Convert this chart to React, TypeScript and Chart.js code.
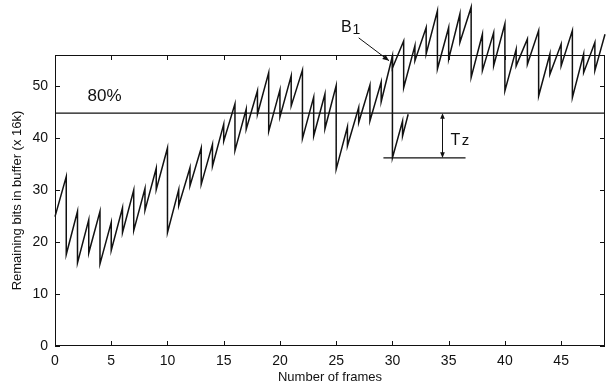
import React, { useEffect, useRef } from "react";
import { Chart, registerables } from "chart.js";

Chart.register(...registerables);

// Frame numbers where the buffer drops (frame boundaries)
const frames = [
  1, 2, 3, 4, 5, 6, 7, 8, 9, 10,
  11, 12, 13, 14, 15, 16, 17, 18, 19, 20,
  21, 22, 23, 24, 25, 26, 27, 28, 29, 30,
  31, 32, 33, 34, 35, 36, 37, 38, 39, 40,
  41, 42, 43, 44, 45, 46, 47, 48,
];
// Buffer level just before each frame boundary (x 16k bits)
const peaks = [
  32.6, 25.9, 24.3, 25.9, 23.8, 26.6, 30.0, 30.3, 34.2, 38.1,
  30.1, 34.3, 38.1, 38.8, 42.7, 46.6, 45.6, 49.1, 52.6, 49.3,
  52.0, 53.1, 47.9, 48.5, 50.1, 42.2, 45.9, 50.2, 50.8, 55.8,
  58.7, 57.8, 61.3, 64.5, 61.3, 63.9, 65.2, 60.0, 60.3, 62.0,
  57.1, 59.1, 60.7, 56.2, 58.1, 60.7, 56.2, 58.4,
];
// Buffer level just after each frame boundary
const troughs = [
  17.6, 16.0, 17.9, 15.8, 18.4, 21.8, 22.2, 26.1, 30.1, 21.8,
  27.0, 30.8, 31.1, 34.6, 39.4, 37.6, 41.7, 44.6, 41.3, 44.1,
  46.2, 39.9, 40.4, 41.8, 34.0, 38.5, 43.0, 43.3, 47.0, 53.5,
  49.7, 54.9, 56.2, 53.3, 55.2, 58.4, 51.7, 53.0, 53.9, 49.1,
  53.9, 54.2, 48.1, 52.3, 53.9, 47.8, 52.6, 53.0,
];
const startX = 0;
const startY = 24.9;
const endX = 48.9;
const endY = 60.0;

// Branch illustrating frame skipping at B1 (drop to Tz level)
const branchX = [30, 30, 30.9, 30.9, 31.4];
const branchY = [55.8, 36.2, 43.3, 40.4, 44.6];

// Reference levels
const B1 = 56;
const level80 = 44.8;
const levelTz = 36.2;
const tzLineX = [29.2, 36.5];
const tzArrowX = 34.4;

const xTicks = [0, 5, 10, 15, 20, 25, 30, 35, 40, 45];
const yTicks = [0, 10, 20, 30, 40, 50];
const xMax = 48.9;

const FONT = "'Liberation Sans', Arial, Helvetica, sans-serif";
const INK = "#111";

function drawArrowHead(ctx: CanvasRenderingContext2D, x1: number, y1: number, x2: number, y2: number, size: number) {
  const a = Math.atan2(y2 - y1, x2 - x1);
  ctx.beginPath();
  ctx.moveTo(x2, y2);
  ctx.lineTo(x2 - size * Math.cos(a - 0.4), y2 - size * Math.sin(a - 0.4));
  ctx.lineTo(x2 - size * Math.cos(a + 0.4), y2 - size * Math.sin(a + 0.4));
  ctx.closePath();
  ctx.fill();
}

const decorPlugin = {
  id: "decor",
  afterDraw(chart: any) {
    const { ctx, chartArea, scales } = chart;
    const xs = scales.x;
    const ys = scales.y;
    const { left, right, top, bottom } = chartArea;
    ctx.save();
    ctx.strokeStyle = INK;
    ctx.fillStyle = INK;
    ctx.lineWidth = 1;
    // axes box
    ctx.strokeRect(Math.round(left) + 0.5, Math.round(top) + 0.5, Math.round(right - left) - 1, Math.round(bottom - top) - 1);
    // inward ticks
    const tl = 5;
    ctx.beginPath();
    xTicks.forEach((v) => {
      const px = Math.round(xs.getPixelForValue(v)) + 0.5;
      ctx.moveTo(px, bottom);
      ctx.lineTo(px, bottom - tl);
      ctx.moveTo(px, top);
      ctx.lineTo(px, top + tl);
    });
    yTicks.forEach((v) => {
      const py = Math.round(ys.getPixelForValue(v)) + 0.5;
      ctx.moveTo(left, py);
      ctx.lineTo(left + tl, py);
      ctx.moveTo(right, py);
      ctx.lineTo(right - tl, py);
    });
    ctx.stroke();

    // Tz double arrow
    const ax = Math.round(xs.getPixelForValue(tzArrowX)) + 0.5;
    const ay1 = ys.getPixelForValue(level80);
    const ay2 = ys.getPixelForValue(levelTz);
    ctx.beginPath();
    ctx.moveTo(ax, ay1 + 2);
    ctx.lineTo(ax, ay2 - 2);
    ctx.stroke();
    drawArrowHead(ctx, ax, ay1 + 10, ax, ay1, 6);
    drawArrowHead(ctx, ax, ay2 - 10, ax, ay2, 6);

    // B1 arrow
    const bx1 = xs.getPixelForValue(27.0);
    const by1 = ys.getPixelForValue(59.3);
    const bx2 = xs.getPixelForValue(29.7);
    const by2 = ys.getPixelForValue(54.9);
    ctx.beginPath();
    ctx.moveTo(bx1, by1);
    ctx.lineTo(bx2, by2);
    ctx.stroke();
    drawArrowHead(ctx, bx1, by1, bx2, by2, 7);

    // texts
    ctx.textBaseline = "middle";
    ctx.textAlign = "center";
    ctx.font = `17px ${FONT}`;
    ctx.fillText("80%", xs.getPixelForValue(4.4), ys.getPixelForValue(48.0));
    ctx.font = `16px ${FONT}`;
    const bX = xs.getPixelForValue(25.9);
    const bY = ys.getPixelForValue(61.2);
    ctx.fillText("B", bX, bY);
    ctx.font = `14px ${FONT}`;
    ctx.fillText("1", bX + 10, bY + 2);
    ctx.textBaseline = "alphabetic";
    ctx.font = `16px ${FONT}`;
    const tX = xs.getPixelForValue(35.6);
    const tY = ys.getPixelForValue(39.8) + 6;
    ctx.fillText("T", tX, tY);
    ctx.font = `15px ${FONT}`;
    ctx.fillText("z", tX + 10, tY);
    ctx.textBaseline = "middle";

    // axis titles
    ctx.font = `13px ${FONT}`;
    ctx.fillText("Number of frames", (left + right) / 2, 377);
    ctx.save();
    ctx.translate(17, (top + bottom) / 2);
    ctx.rotate(-Math.PI / 2);
    ctx.fillText("Remaining bits in buffer (x 16k)", 0, 0);
    ctx.restore();
    ctx.restore();
  },
};

export default function App() {
  const ref = useRef<HTMLCanvasElement | null>(null);
  useEffect(() => {
    document.body.style.margin = "0";
    const canvas = ref.current;
    if (!canvas) return;
    const mainPts: { x: number; y: number }[] = [{ x: startX, y: startY }];
    frames.forEach((f, i) => {
      mainPts.push({ x: f, y: peaks[i] });
      mainPts.push({ x: f, y: troughs[i] });
    });
    mainPts.push({ x: endX, y: endY });
    const branchPts = branchX.map((x, i) => ({ x, y: branchY[i] }));
    const line80 = [{ x: 0, y: level80 }, { x: xMax, y: level80 }];
    const lineTz = tzLineX.map((x) => ({ x, y: levelTz }));

    const common = {
      showLine: true,
      borderColor: INK,
      backgroundColor: INK,
      pointRadius: 0,
      tension: 0,
      fill: false,
      clip: false as any,
    };

    const chart = new Chart(canvas, {
      type: "scatter",
      data: {
        datasets: [
          { ...common, data: mainPts, borderWidth: 1.5 },
          { ...common, data: branchPts, borderWidth: 1.5 },
          { ...common, data: line80, borderWidth: 1.3 },
          { ...common, data: lineTz, borderWidth: 1.3 },
        ],
      },
      options: {
        responsive: false,
        animation: false,
        devicePixelRatio: 1,
        layout: { padding: { top: 55, right: 1, left: 0, bottom: 0 } },
        plugins: { legend: { display: false }, tooltip: { enabled: false } },
        scales: {
          x: {
            type: "linear",
            min: 0,
            max: xMax,
            grid: { display: false, drawTicks: false },
            border: { display: false },
            afterFit: (s: any) => { s.height = 38; },
            afterBuildTicks: (s: any) => { s.ticks = xTicks.map((v) => ({ value: v })); },
            ticks: { color: INK, padding: 7, maxRotation: 0, font: { family: FONT, size: 14 } },
          },
          y: {
            type: "linear",
            min: 0,
            max: B1,
            grid: { display: false, drawTicks: false },
            border: { display: false },
            afterFit: (s: any) => { s.width = 55; },
            afterBuildTicks: (s: any) => { s.ticks = yTicks.map((v) => ({ value: v })); },
            ticks: { color: INK, padding: 7, font: { family: FONT, size: 14 } },
          },
        },
      },
      plugins: [decorPlugin],
    });
    return () => chart.destroy();
  }, []);
  return (
    <div style={{ width: 606, height: 384, background: "#fff" }}>
      <canvas ref={ref} width={606} height={384} style={{ width: 606, height: 384, display: "block" }} />
    </div>
  );
}
